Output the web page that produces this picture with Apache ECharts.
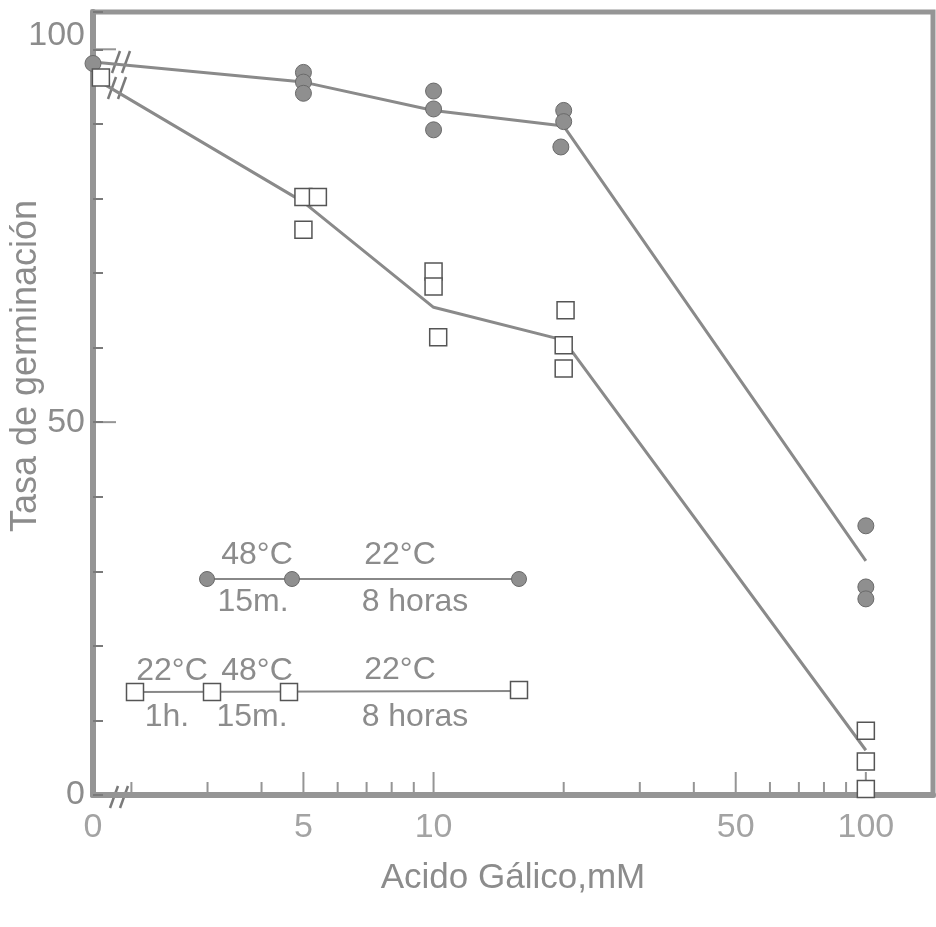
<!DOCTYPE html>
<html>
<head>
<meta charset="utf-8">
<title>Tasa de germinación / Acido Gálico</title>
<script src="https://cdn.jsdelivr.net/npm/echarts@6.0.0/dist/echarts.min.js"></script>
<style>
  html, body { margin: 0; padding: 0; background: #fff; }
  #main { width: 936px; height: 927px; }
</style>
</head>
<body>
<div id="main"></div>
<script>
// 0 mM can not live on a log axis, it is drawn on the left edge (broken axis)
const ZERO_X = 1.63;
const X_MAX = 143;

// [mM, % germinación]
const circlePoints = [
  [ZERO_X, 98.1],
  [5, 96.9], [5, 95.6], [5, 94.1],
  [10, 94.4], [10, 92.0], [10, 89.2],
  [20, 91.8], [20, 90.3], [19.7, 86.9],
  [100, 36.1], [100, 27.9], [100, 26.3]
];
const squarePoints = [
  [1.7, 96.2],
  [5, 80.2], [5.4, 80.2], [5, 75.8],
  [10, 70.2], [10, 68.2], [10.25, 61.4],
  [20.2, 65.0], [20, 60.3], [20, 57.2],
  [100, 8.6], [100, 4.5], [100, 0.8]
];
const circleLine = [[ZERO_X, 98.3], [5, 95.6], [10, 91.8], [20, 89.7], [100, 31.4]];
const squareLine = [[ZERO_X, 96.2], [5, 79.5], [10, 65.4], [20, 61.0], [100, 6.0]];

// axis ticks / labels
const xMinorTicks = [2, 3, 4, 6, 7, 8, 9, 20, 30, 40, 60, 70, 80, 90];
const xMajorTicks = [5, 10, 50, 100];
const xTickLabels = [[ZERO_X, '0'], [5, '5'], [10, '10'], [50, '50'], [100, '100']];
const yTickLabels = [0, 50, 100];
const yMajorTicks = [50, 100];

const INK = '#8c8c8c';
const FRAME = '#959595';
const TICK = '#7a7a7a';
const LETTER = "'Liberation Sans', 'DejaVu Sans', sans-serif";

let myChart = echarts.init(document.getElementById('main'));

// "//" marks of the broken axis
function breakMark(cx, cy) {
  return {
    type: 'group', x: cx, y: cy, z: 100,
    children: [
      { type: 'polygon', shape: { points: [[-9, 11], [-1, -11], [9, -11], [1, 11]] }, style: { fill: '#fff' } },
      { type: 'line', shape: { x1: -9, y1: 11, x2: -1, y2: -11 }, style: { stroke: TICK, lineWidth: 2.5 } },
      { type: 'line', shape: { x1: 1, y1: 11, x2: 9, y2: -11 }, style: { stroke: TICK, lineWidth: 2.5 } }
    ]
  };
}

function txt(s, x, y) {
  return {
    type: 'text', x: x, y: y, z: 50,
    style: { text: s, fill: INK, fontSize: 32, fontFamily: LETTER, align: 'center', verticalAlign: 'middle' }
  };
}

function dot(x, y) {
  return { type: 'circle', z: 41, shape: { cx: x, cy: y, r: 7.5 }, style: { fill: '#8f8f8f', stroke: '#6a6a6a', lineWidth: 1 } };
}

function box(x, y) {
  return { type: 'rect', z: 41, shape: { x: x - 8.5, y: y - 8.5, width: 17, height: 17 }, style: { fill: '#fff', stroke: '#555', lineWidth: 1.5 } };
}

// protocol keys drawn inside the plot
let graphics = [
  {
    type: 'text', x: 26, y: 366, rotation: Math.PI / 2,
    style: { text: 'Tasa de germinación', fill: INK, fontSize: 36, fontFamily: LETTER, align: 'center', verticalAlign: 'middle' }
  },
  breakMark(121, 62),
  breakMark(117, 88),
  breakMark(119, 797),

  { type: 'line', z: 40, shape: { x1: 207, y1: 579, x2: 519, y2: 579 }, style: { stroke: '#888', lineWidth: 2 } },
  dot(207, 579), dot(292, 579), dot(519, 579),
  txt('48°C', 257, 555), txt('22°C', 400, 555),
  txt('15m.', 253, 602), txt('8 horas', 415, 602),

  { type: 'line', z: 40, shape: { x1: 135, y1: 692, x2: 519, y2: 691 }, style: { stroke: '#888', lineWidth: 2 } },
  box(135, 692), box(212, 692), box(289, 692), box(519, 690),
  txt('22°C', 172, 671), txt('48°C', 257, 671), txt('22°C', 400, 670),
  txt('1h.', 167, 717), txt('15m.', 252, 717), txt('8 horas', 415, 717)
];

option = {
  animation: false,
  backgroundColor: '#fff',
  grid: {
    left: 93, right: 3, top: 12, bottom: 132,
    show: true, borderColor: FRAME, borderWidth: 5
  },
  xAxis: {
    type: 'log',
    logBase: 10,
    min: ZERO_X,
    max: X_MAX,
    name: 'Acido Gálico,mM',
    nameLocation: 'middle',
    nameGap: 66,
    nameTextStyle: { fontSize: 35, fontFamily: LETTER, color: INK },
    splitLine: { show: false },
    axisTick: { show: false },
    axisLabel: { show: false },
    axisLine: { onZero: false, lineStyle: { color: FRAME, width: 6 } }
  },
  yAxis: {
    type: 'value',
    min: 0,
    max: 105,
    interval: 10,
    splitLine: { show: false },
    axisLine: { show: true, onZero: false, lineStyle: { color: FRAME, width: 6 } },
    axisTick: { show: true, inside: true, length: 10, lineStyle: { color: TICK, width: 2 } },
    axisLabel: {
      margin: 8, fontSize: 34, fontFamily: LETTER, color: INK,
      formatter: function(v) {
        if (v === 100) return '{up|100}'; //100 sits a little higher than its tick
        return yTickLabels.indexOf(v) >= 0 ? String(v) : '';
      },
      rich: {
        up: { fontSize: 34, fontFamily: LETTER, color: INK, padding: [0, 0, 28, 0] }
      }
    }
  },
  series: [
    {
      name: 'lineCircles', type: 'line', data: circleLine, symbol: 'none',
      lineStyle: { color: '#8a8a8a', width: 3 }, z: 2
    },
    {
      name: 'lineSquares', type: 'line', data: squareLine, symbol: 'none',
      lineStyle: { color: '#8a8a8a', width: 3 }, z: 2
    },
    {
      name: 'circles', type: 'scatter', data: circlePoints, symbol: 'circle', symbolSize: 16,
      itemStyle: { color: '#8f8f8f', borderColor: '#6a6a6a', borderWidth: 1, opacity: 1 }, z: 4, clip: false
    },
    {
      name: 'squares', type: 'scatter', data: squarePoints, symbol: 'rect', symbolSize: 17,
      itemStyle: { color: '#fff', borderColor: '#555', borderWidth: 1.5, opacity: 1 }, z: 4, clip: false
    },
    // ticks of the log axis (2,3,4... between the decades)
    {
      name: 'xMinor', type: 'scatter', silent: true, clip: false, symbol: 'rect',
      symbolSize: [2, 10], symbolOffset: [0, -8],
      itemStyle: { color: TICK }, data: xMinorTicks.map(v => [v, 0]), z: 3
    },
    {
      name: 'xMajor', type: 'scatter', silent: true, clip: false, symbol: 'rect',
      symbolSize: [2, 20], symbolOffset: [0, -13],
      itemStyle: { color: TICK }, data: xMajorTicks.map(v => [v, 0]), z: 3
    },
    {
      name: 'yMajor', type: 'scatter', silent: true, clip: false, symbol: 'rect',
      symbolSize: [20, 2], symbolOffset: [13, 0],
      itemStyle: { color: TICK }, data: yMajorTicks.map(v => [ZERO_X, v]), z: 3
    },
    {
      name: 'xLabels', type: 'scatter', silent: true, clip: false, symbol: 'circle', symbolSize: 1,
      itemStyle: { color: 'rgba(0,0,0,0)' },
      label: {
        show: true, position: 'bottom', distance: 15, formatter: '{b}',
        fontSize: 34, fontFamily: LETTER, color: INK
      },
      data: xTickLabels.map(d => ({ name: d[1], value: [d[0], 0] })),
      z: 3
    }
  ],
  graphic: graphics
};

myChart.setOption(option);
</script>
</body>
</html>
